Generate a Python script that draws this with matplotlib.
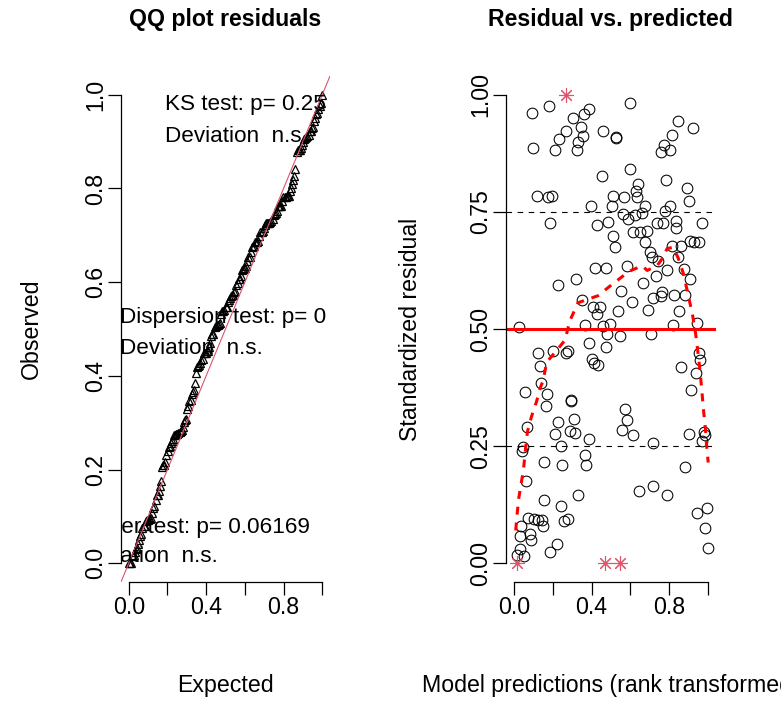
import numpy as np
import matplotlib
matplotlib.use("Agg")
import matplotlib.pyplot as plt

plt.rcParams['font.family'] = ['Liberation Sans', 'DejaVu Sans']

# scaled residuals: (rank-transformed prediction, residual)
pred = [0.095, 0.180, 0.306, 0.361, 0.385, 0.344, 0.271, 0.234, 0.354, 0.332,
        0.326, 0.211, 0.101, 0.460, 0.526, 0.526, 0.598, 0.847, 0.924, 0.816,
        0.773, 0.758, 0.801, 0.598, 0.452, 0.637, 0.784, 0.893, 0.629, 0.899,
        0.117, 0.174, 0.194, 0.395, 0.512, 0.567, 0.632, 0.503, 0.675, 0.804,
        0.778, 0.564, 0.589, 0.624, 0.658, 0.186, 0.426, 0.486, 0.735, 0.766,
        0.833, 0.835, 0.967, 0.612, 0.649, 0.687, 0.512, 0.521, 0.675, 0.701,
        0.710, 0.813, 0.861, 0.907, 0.928, 0.950, 0.744, 0.847, 0.873, 0.418,
        0.474, 0.581, 0.787, 0.732, 0.225, 0.320, 0.667, 0.907, 0.552, 0.761,
        0.756, 0.715, 0.826, 0.881, 0.349, 0.607, 0.405, 0.443, 0.426, 0.538,
        0.689, 0.852, 0.026, 0.366, 0.460, 0.495, 0.821, 0.942,
        0.478, 0.546, 0.706, 0.387, 0.474, 0.125, 0.203, 0.268, 0.280, 0.134,
        0.400, 0.412, 0.435, 0.950, 0.959, 0.859, 0.938, 0.139, 0.057, 0.172,
        0.912, 0.165, 0.294, 0.294, 0.572, 0.581, 0.558, 0.615, 0.070, 0.225,
        0.311, 0.211, 0.289, 0.314, 0.388, 0.899, 0.976, 0.985, 0.969, 0.048,
        0.043, 0.241, 0.718, 0.156, 0.249, 0.366, 0.371, 0.883, 0.065, 0.156,
        0.241, 0.332, 0.644, 0.718, 0.790, 0.942, 0.993, 0.985, 0.998, 0.074,
        0.105, 0.125, 0.146, 0.151, 0.036, 0.259, 0.280, 0.031, 0.082, 0.088,
        0.220, 0.186, 0.031, 0.014, 0.053]
resid = [0.960, 0.977, 0.950, 0.959, 0.969, 0.932, 0.922, 0.905, 0.913, 0.900,
         0.881, 0.882, 0.886, 0.922, 0.910, 0.908, 0.982, 0.943, 0.930, 0.915,
         0.893, 0.877, 0.882, 0.842, 0.827, 0.810, 0.817, 0.802, 0.794, 0.774,
         0.783, 0.781, 0.783, 0.763, 0.783, 0.781, 0.781, 0.763, 0.762, 0.762,
         0.751, 0.746, 0.735, 0.744, 0.747, 0.726, 0.721, 0.729, 0.726, 0.726,
         0.730, 0.716, 0.726, 0.706, 0.706, 0.710, 0.698, 0.676, 0.685, 0.664,
         0.653, 0.678, 0.678, 0.687, 0.685, 0.685, 0.646, 0.653, 0.628, 0.630,
         0.630, 0.634, 0.626, 0.614, 0.593, 0.607, 0.598, 0.606, 0.582, 0.580,
         0.570, 0.566, 0.573, 0.573, 0.562, 0.557, 0.547, 0.547, 0.531, 0.538,
         0.541, 0.538, 0.504, 0.509, 0.507, 0.511, 0.509, 0.512,
         0.490, 0.486, 0.490, 0.470, 0.461, 0.448, 0.452, 0.449, 0.454, 0.422,
         0.436, 0.428, 0.424, 0.448, 0.434, 0.419, 0.407, 0.385, 0.365, 0.362,
         0.369, 0.335, 0.349, 0.346, 0.330, 0.305, 0.285, 0.274, 0.291, 0.301,
         0.307, 0.275, 0.282, 0.278, 0.266, 0.275, 0.281, 0.273, 0.262, 0.248,
         0.240, 0.250, 0.257, 0.217, 0.209, 0.232, 0.209, 0.205, 0.175, 0.136,
         0.122, 0.145, 0.154, 0.164, 0.145, 0.108, 0.119, 0.076, 0.033, 0.097,
         0.095, 0.093, 0.092, 0.080, 0.080, 0.090, 0.094, 0.058, 0.063, 0.049,
         0.042, 0.023, 0.030, 0.017, 0.016]

# simulation outliers (residual exactly 0 or 1)
out_pred = [0.268, 0.014, 0.469, 0.546]
out_resid = [1.0, 0.0, 0.0, 0.0]

# median quantile smoother (red dashed)
q50_x = [0.010, 0.016, 0.026, 0.040, 0.050, 0.057, 0.062, 0.070, 0.082, 0.100,
         0.117, 0.134, 0.151, 0.165, 0.177, 0.228, 0.263, 0.289, 0.330, 0.433,
         0.505, 0.593, 0.660, 0.686, 0.737, 0.763, 0.789, 0.820, 0.845, 0.871,
         0.892, 0.918, 0.933, 0.942, 0.950, 0.959, 0.967, 0.975, 0.985, 0.993, 1.0]
q50_y = [0.070, 0.100, 0.140, 0.175, 0.200, 0.230, 0.250, 0.280, 0.300, 0.325,
         0.345, 0.372, 0.390, 0.420, 0.433, 0.458, 0.476, 0.518, 0.556, 0.571,
         0.595, 0.623, 0.635, 0.625, 0.635, 0.650, 0.672, 0.674, 0.652, 0.620,
         0.582, 0.533, 0.497, 0.468, 0.440, 0.405, 0.369, 0.330, 0.290, 0.245, 0.215]

tests = [("KS test: p= 0.25", "Deviation  n.s.", 0.187, 0.979, 0.910),
         ("Dispersion test: p= 0", "Deviation  n.s.", -0.045, 0.524, 0.459),
         ("Outlier test: p= 0.06169", "Deviation  n.s.", -0.28, 0.077, 0.015)]

red_pt = "#DF536B"
fs = 16.7

fig = plt.figure(figsize=(7.81, 7.02), dpi=100)
W, H = 781, 702
ax1 = fig.add_axes([121 / W, (H - 582) / H, 209 / W, 506 / H])
ax2 = fig.add_axes([506 / W, (H - 582) / H, 210 / W, 506 / H])


def r_style(ax, yt, ylabs):
    ax.set_xlim(-0.04, 1.04)
    ax.set_ylim(-0.04, 1.04)
    for s in ["top", "right"]:
        ax.spines[s].set_visible(False)
    ax.spines["left"].set_bounds(0, 1)
    ax.spines["bottom"].set_bounds(0, 1)
    ax.spines["left"].set_linewidth(0.9)
    ax.spines["bottom"].set_linewidth(0.9)
    ax.set_xticks([0, 0.2, 0.4, 0.6, 0.8, 1.0])
    ax.set_xticklabels(["0.0", "", "0.4", "", "0.8", ""])
    ax.set_yticks(yt)
    ax.set_yticklabels(ylabs, rotation=90, va="center")
    ax.tick_params(length=9.5, width=0.9, labelsize=fs, pad=0.5)


# QQ plot
all_res = np.sort(np.concatenate([resid, out_resid]))
n = len(all_res)
expected = (np.arange(1, n + 1) - 0.5) / n
ax1.plot(expected, all_res, linestyle="none", marker="^", markersize=6,
         markerfacecolor="none", markeredgecolor="black", markeredgewidth=0.9)
ax1.axline((0, 0), slope=1, color=red_pt, lw=0.8)
for l1, l2, tx, ty1, ty2 in tests:
    ax1.text(tx, ty1, l1, fontsize=16.2, ha="left", va="center", clip_on=True, zorder=5)
    ax1.text(tx, ty2, l2, fontsize=16.2, ha="left", va="center", clip_on=True, zorder=5)
r_style(ax1, [0, 0.2, 0.4, 0.6, 0.8, 1.0], ["0.0", "0.2", "0.4", "0.6", "0.8", "1.0"])
ax1.text(0.5, 1.111, "QQ plot residuals", transform=ax1.transAxes, fontsize=fs,
         fontweight="bold", ha="center", va="center")
ax1.set_xlabel("Expected", fontsize=fs)
ax1.set_ylabel("Observed", fontsize=fs)
ax1.xaxis.set_label_coords(0.5, -0.2036)
ax1.xaxis.label.set_va("center")
ax1.yaxis.set_label_coords(-0.43, 0.5)
ax1.yaxis.label.set_va("center")

# residual vs predicted
ax2.plot(pred, resid, linestyle="none", marker="o", markersize=7.7,
         markerfacecolor="none", markeredgecolor="black", markeredgewidth=0.75)
ax2.plot(out_pred, out_resid, linestyle="none", marker=(8, 2, 0), markersize=10.5,
         markeredgecolor=red_pt, markeredgewidth=0.8)
for q in [0.25, 0.75]:
    ax2.axhline(q, color="black", lw=0.8, linestyle=(0, (5, 5)))
ax2.axhline(0.5, color="red", lw=2.2)
ax2.plot(q50_x, q50_y, color="red", lw=2.2, linestyle=(0, (2.6, 2.6)))
r_style(ax2, [0, 0.25, 0.5, 0.75, 1.0], ["0.00", "0.25", "0.50", "0.75", "1.00"])
ax2.text(0.5, 1.111, "Residual vs. predicted", transform=ax2.transAxes, fontsize=fs,
         fontweight="bold", ha="center", va="center")
ax2.set_xlabel("Model predictions (rank transformed)", fontsize=fs)
ax2.set_ylabel("Standardized residual", fontsize=fs)
ax2.xaxis.set_label_coords(0.5, -0.2036)
ax2.xaxis.label.set_va("center")
ax2.yaxis.set_label_coords(-0.457, 0.5)
ax2.yaxis.label.set_va("center")

fig.savefig("out.png", dpi=100)
